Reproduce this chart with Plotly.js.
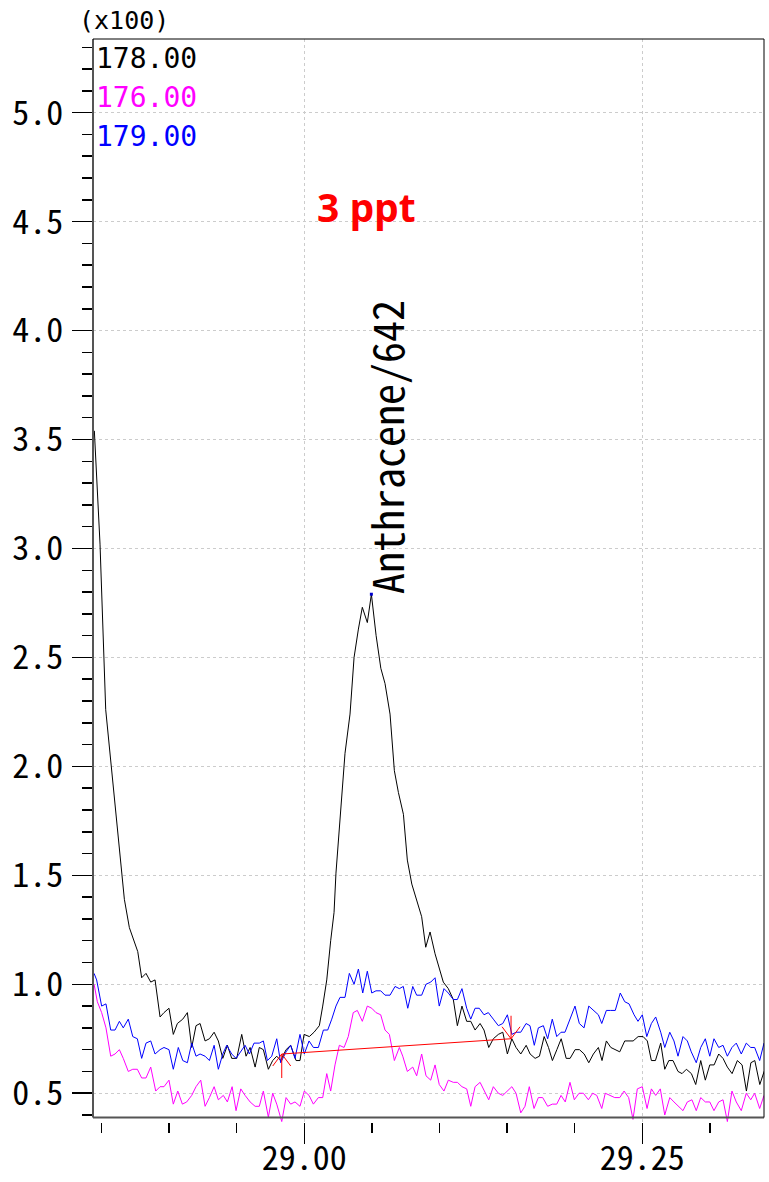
<!DOCTYPE html>
<html>
<head>
<meta charset="utf-8">
<script src="https://cdn.plot.ly/plotly-3.0.1.min.js"></script>
<style>html,body{margin:0;padding:0;background:#fff;}#chart{width:769px;height:1182px;}</style>
</head>
<body>
<div id="chart"></div>
<script>
// ---- data (retention time in min, intensity in x100 counts) ----
const seriesNames = ["178.00", "176.00", "179.00"];
const seriesColors = ["#000000", "#ff00ff", "#0000ff"];

const t178 = [
 28.8447,28.8489,28.8531,28.8669,28.8706,28.8768,28.8797,28.8829,28.8864,28.8896,
 28.8933,28.8962,28.8999,28.9031,28.9061,28.9101,28.9135,28.9167,28.9199,28.9229,
 28.9266,28.9298,28.9333,28.9364,28.9397,28.9431,28.9463,28.9500,28.9537,28.9569,
 28.9599,28.9636,28.9667,28.9697,28.9734,28.9766,28.9796,28.9825,28.9865,28.9899,
 28.9939,28.9968,28.9998,29.0037,29.0072,29.0111,29.0136,29.0166,29.0195,29.0220,
 29.0234,29.0269,29.0301,29.0338,29.0368,29.0400,29.0429,29.0466,29.0496,29.0531,
 29.0566,29.0597,29.0634,29.0666,29.0696,29.0733,29.0762,29.0795,29.0826,29.0868,
 29.0898,29.0930,29.0967,29.0998,29.1028,29.1065,29.1102,29.1132,29.1166,29.1201,
 29.1231,29.1263,29.1300,29.1329,29.1364,29.1398,29.1435,29.1468,29.1502,29.1535,
 29.1566,29.1601,29.1641,29.1670,29.1707,29.1739,29.1774,29.1806,29.1835,29.1868,
 29.1900,29.1937,29.1966,29.2003,29.2035,29.2070,29.2104,29.2138,29.2175,29.2202,
 29.2234,29.2267,29.2301,29.2333,29.2370,29.2400,29.2432,29.2469,29.2506,29.2537,
 29.2567,29.2597,29.2636,29.2666,29.2696,29.2727,29.2764,29.2794,29.2826,29.2863,
 29.2895,29.2932,29.2966,29.2999,29.3031,29.3065,29.3097,29.3129,29.3164,29.3203,
 29.3238,29.3270,29.3303,29.3332,29.3369,29.3401,29.3438
];
const i178 = [
 3.54,3.02,2.26,1.39,1.26,1.15,1.03,1.05,1.01,1.02,
 0.85,0.87,0.89,0.77,0.82,0.84,0.87,0.71,0.81,0.82,
 0.74,0.75,0.78,0.74,0.66,0.72,0.66,0.66,0.77,0.67,
 0.71,0.62,0.71,0.70,0.61,0.65,0.67,0.65,0.70,0.72,
 0.65,0.65,0.77,0.76,0.78,0.81,0.90,1.02,1.20,1.33,
 1.51,1.80,2.06,2.24,2.50,2.63,2.73,2.66,2.79,2.60,
 2.45,2.38,2.24,1.98,1.88,1.78,1.57,1.46,1.40,1.31,
 1.17,1.24,1.14,1.07,1.01,0.98,0.93,0.81,0.90,0.83,
 0.83,0.79,0.82,0.79,0.71,0.75,0.77,0.78,0.68,0.75,
 0.71,0.68,0.72,0.68,0.66,0.67,0.76,0.71,0.65,0.70,
 0.75,0.66,0.66,0.70,0.70,0.68,0.64,0.68,0.71,0.65,
 0.74,0.71,0.70,0.69,0.74,0.74,0.74,0.76,0.76,0.74,
 0.65,0.65,0.73,0.61,0.65,0.65,0.60,0.59,0.61,0.59,
 0.54,0.65,0.56,0.63,0.63,0.68,0.66,0.62,0.59,0.65,
 0.63,0.51,0.64,0.65,0.54,0.60,0.64
];

const t179 = [
 28.8445,28.8464,28.8501,28.8533,28.8568,28.8600,28.8632,28.8661,28.8698,28.8731,
 28.8765,28.8797,28.8829,28.8864,28.8896,28.8933,28.8962,28.8999,28.9031,28.9068,
 28.9101,28.9135,28.9167,28.9199,28.9229,28.9266,28.9298,28.9333,28.9364,28.9397,
 28.9426,28.9463,28.9495,28.9530,28.9562,28.9594,28.9628,28.9667,28.9697,28.9727,
 28.9759,28.9796,28.9825,28.9865,28.9899,28.9931,28.9968,29.0000,29.0035,29.0067,
 29.0104,29.0141,29.0173,29.0203,29.0234,29.0264,29.0301,29.0333,29.0368,29.0400,
 29.0432,29.0466,29.0499,29.0530,29.0565,29.0597,29.0634,29.0671,29.0703,29.0732,
 29.0765,29.0802,29.0831,29.0868,29.0900,29.0935,29.0967,29.0998,29.1033,29.1065,
 29.1102,29.1132,29.1166,29.1201,29.1231,29.1263,29.1294,29.1329,29.1361,29.1398,
 29.1435,29.1468,29.1502,29.1535,29.1566,29.1601,29.1640,29.1669,29.1701,29.1731,
 29.1768,29.1800,29.1834,29.1867,29.1899,29.1928,29.1965,29.2002,29.2034,29.2069,
 29.2104,29.2138,29.2175,29.2200,29.2234,29.2266,29.2300,29.2337,29.2370,29.2402,
 29.2439,29.2468,29.2500,29.2533,29.2567,29.2599,29.2636,29.2666,29.2703,29.2734,
 29.2764,29.2801,29.2833,29.2862,29.2899,29.2932,29.2966,29.2999,29.3030,29.3065,
 29.3097,29.3129,29.3163,29.3195,29.3232,29.3269,29.3302,29.3331,29.3368,29.3400,
 29.3437
];
const i179 = [
 1.05,1.02,0.90,0.91,0.79,0.79,0.83,0.80,0.84,0.76,
 0.75,0.66,0.73,0.74,0.68,0.70,0.71,0.70,0.61,0.71,
 0.65,0.64,0.73,0.67,0.68,0.67,0.65,0.72,0.61,0.68,
 0.72,0.68,0.66,0.69,0.72,0.68,0.73,0.73,0.74,0.65,
 0.67,0.75,0.64,0.69,0.72,0.66,0.77,0.68,0.74,0.71,
 0.71,0.79,0.79,0.84,0.90,0.94,0.94,1.05,1.00,1.07,
 0.96,1.06,0.96,0.97,0.97,0.95,0.95,0.99,0.98,0.99,
 0.89,0.99,0.95,0.95,1.00,1.01,1.03,0.90,0.98,0.96,
 0.93,0.93,0.98,0.89,0.84,0.89,0.89,0.86,0.87,0.84,
 0.81,0.82,0.86,0.77,0.78,0.78,0.82,0.81,0.72,0.80,
 0.81,0.75,0.84,0.76,0.78,0.78,0.84,0.90,0.82,0.80,
 0.90,0.88,0.86,0.82,0.88,0.88,0.88,0.96,0.92,0.91,
 0.86,0.83,0.86,0.76,0.82,0.85,0.78,0.71,0.78,0.74,
 0.67,0.76,0.74,0.69,0.64,0.71,0.75,0.67,0.75,0.71,
 0.72,0.67,0.71,0.73,0.68,0.73,0.71,0.71,0.65,0.73,
 0.70
];

const t176 = [
 28.8445,28.8469,28.8501,28.8533,28.8568,28.8600,28.8632,28.8661,28.8698,28.8731,
 28.8765,28.8797,28.8829,28.8864,28.8901,28.8933,28.8962,28.8999,28.9031,28.9064,
 28.9098,28.9130,28.9167,28.9199,28.9234,28.9266,28.9298,28.9333,28.9364,28.9401,
 28.9431,28.9466,28.9495,28.9530,28.9562,28.9599,28.9636,28.9667,28.9697,28.9734,
 28.9766,28.9796,28.9833,28.9865,28.9899,28.9931,28.9968,29.0000,29.0035,29.0067,
 29.0104,29.0136,29.0166,29.0195,29.0227,29.0259,29.0294,29.0325,29.0362,29.0392,
 29.0429,29.0466,29.0499,29.0530,29.0565,29.0597,29.0629,29.0666,29.0703,29.0728,
 29.0762,29.0802,29.0831,29.0868,29.0900,29.0935,29.0967,29.0998,29.1033,29.1065,
 29.1102,29.1132,29.1166,29.1201,29.1231,29.1263,29.1300,29.1329,29.1364,29.1398,
 29.1435,29.1468,29.1502,29.1535,29.1566,29.1601,29.1632,29.1664,29.1699,29.1731,
 29.1763,29.1800,29.1834,29.1867,29.1899,29.1930,29.1965,29.1997,29.2032,29.2064,
 29.2101,29.2133,29.2163,29.2200,29.2226,29.2259,29.2296,29.2333,29.2365,29.2399,
 29.2431,29.2463,29.2500,29.2535,29.2567,29.2599,29.2633,29.2666,29.2703,29.2734,
 29.2769,29.2801,29.2833,29.2867,29.2899,29.2932,29.2966,29.2999,29.3030,29.3065,
 29.3097,29.3129,29.3163,29.3195,29.3232,29.3269,29.3302,29.3331,29.3368,29.3400,
 29.3437
];
const i176 = [
 1.00,0.92,0.87,0.80,0.67,0.68,0.70,0.66,0.60,0.61,
 0.61,0.57,0.57,0.62,0.51,0.53,0.53,0.56,0.45,0.51,
 0.45,0.46,0.49,0.53,0.56,0.44,0.48,0.53,0.47,0.49,
 0.46,0.53,0.42,0.52,0.49,0.46,0.44,0.44,0.51,0.39,
 0.50,0.45,0.37,0.48,0.45,0.46,0.44,0.51,0.49,0.45,
 0.48,0.48,0.59,0.51,0.63,0.72,0.71,0.76,0.87,0.88,
 0.83,0.90,0.89,0.87,0.86,0.79,0.77,0.65,0.71,0.67,
 0.60,0.62,0.58,0.68,0.58,0.56,0.63,0.54,0.51,0.56,
 0.55,0.55,0.53,0.52,0.44,0.53,0.55,0.51,0.47,0.53,
 0.50,0.49,0.51,0.53,0.50,0.41,0.44,0.53,0.43,0.48,
 0.48,0.44,0.45,0.45,0.49,0.46,0.55,0.47,0.50,0.50,
 0.47,0.50,0.49,0.43,0.50,0.49,0.48,0.48,0.51,0.48,
 0.38,0.52,0.53,0.43,0.52,0.49,0.52,0.40,0.48,0.46,
 0.44,0.42,0.46,0.47,0.42,0.48,0.46,0.46,0.42,0.46,
 0.47,0.37,0.51,0.46,0.42,0.50,0.47,0.50,0.43,0.49,
 0.51
];

// integration baseline (start / end of peak)
const baseT = [28.9833, 29.1529];
const baseI = [0.68, 0.75];
// peak label
const peakT = [29.0496];
const peakI = [2.79];
const peakLabel = ["Anthracene/642"];
const concText = "3 ppt";
const scaleText = "(x100)";

// ---- drawing ----
const MONO = "'Noto Sans Mono CJK JP', 'DejaVu Sans Mono', monospace";
const MONO2 = "'DejaVu Sans Mono', monospace";
const traces = [
  {x: t178, y: i178, mode: 'lines', line: {color: seriesColors[0], width: 1}, name: seriesNames[0]},
  {x: t176, y: i176, mode: 'lines', line: {color: seriesColors[1], width: 1}, name: seriesNames[1]},
  {x: t179, y: i179, mode: 'lines', line: {color: seriesColors[2], width: 1}, name: seriesNames[2]},
  {x: baseT, y: baseI, mode: 'lines', line: {color: '#ff0000', width: 1}, name: 'baseline'},
  {x: peakT, y: peakI, mode: 'markers', marker: {color: '#0000cc', size: 3, symbol: 'square'}, name: 'apex'}
];

const yb = 4.5 / 1083; // bottom frame line slightly above the tick origin
const shapes = [
  {type: 'line', xref: 'paper', yref: 'paper', x0: 0, x1: 0, y0: yb, y1: 1, line: {color: '#555555', width: 2}},
  {type: 'line', xref: 'paper', yref: 'paper', x0: 0, x1: 1, y0: yb, y1: yb, line: {color: '#555555', width: 2}},
  {type: 'line', xref: 'paper', yref: 'paper', x0: 0, x1: 1, y0: 1, y1: 1, line: {color: '#000000', width: 1}},
  {type: 'line', xref: 'paper', yref: 'paper', x0: 1, x1: 1, y0: yb, y1: 1, line: {color: '#000000', width: 1}},
  // peak start / end markers
  {type: 'path', xref: 'x', yref: 'y', xsizemode: 'pixel', ysizemode: 'pixel',
   xanchor: baseT[0], yanchor: baseI[0], path: 'M-9,-12L0,0L9,-12M0,0L0,-24', line: {color: '#ff0000', width: 1}},
  {type: 'path', xref: 'x', yref: 'y', xsizemode: 'pixel', ysizemode: 'pixel',
   xanchor: baseT[1], yanchor: baseI[1], path: 'M-9,12L0,0L9,12M0,0L0,23', line: {color: '#ff0000', width: 1}}
];

const legendY = [0.9818, 0.9457, 0.9098];
const annotations = seriesNames.map((n, i) => ({
  xref: 'paper', yref: 'paper', x: 0.002, y: legendY[i], xanchor: 'left', yanchor: 'middle',
  text: n, showarrow: false, font: {family: MONO2, size: 28, color: seriesColors[i]}
}));
annotations.push({xref: 'paper', yref: 'paper', x: -0.024, y: 1.0175, xanchor: 'left', yanchor: 'middle',
  text: scaleText, showarrow: false, font: {family: MONO2, size: 25, color: '#000'}});
annotations.push({xref: 'paper', yref: 'paper', x: 0.408, y: 0.845, xanchor: 'center', yanchor: 'middle',
  text: '<b>' + concText + '</b>', showarrow: false, font: {family: "'Open Sans', sans-serif", size: 39, color: '#ff0000'}});
annotations.push({xref: 'x', yref: 'y', x: peakT[0], y: peakI[0], xanchor: 'left', yanchor: 'bottom',
  text: peakLabel[0], textangle: -90, showarrow: false, xshift: -19, yshift: -2,
  font: {family: MONO, size: 42, color: '#000'}});

const layout = {
  width: 769, height: 1182,
  margin: {l: 93, r: 5, t: 39, b: 60, pad: 0},
  paper_bgcolor: '#ffffff', plot_bgcolor: '#ffffff',
  showlegend: false,
  xaxis: {
    range: [28.8437, 29.3400], tickmode: 'linear', tick0: 29.0, dtick: 0.25, tickformat: '.2f',
    ticks: 'outside', ticklen: 21, tickwidth: 1.5, tickcolor: '#000',
    showgrid: true, gridcolor: '#cccccc', griddash: 'dot', gridwidth: 1,
    zeroline: false, showline: false, ticklabelstandoff: -15,
    minor: {dtick: 0.05, tick0: 29.0, ticks: 'outside', ticklen: 10, tickwidth: 1.5, tickcolor: '#000', showgrid: false},
    tickfont: {family: MONO, size: 34, color: '#000'}
  },
  yaxis: {
    range: [0.368, 5.338], tickmode: 'linear', tick0: 0.5, dtick: 0.5, tickformat: '.1f',
    ticks: 'outside', ticklen: 20, tickwidth: 1.5, tickcolor: '#000',
    showgrid: true, gridcolor: '#cccccc', griddash: 'dot', gridwidth: 1,
    zeroline: false, showline: false, ticklabelstandoff: 2,
    minor: {dtick: 0.1, tick0: 0.5, ticks: 'outside', ticklen: 10, tickwidth: 1.5, tickcolor: '#000', showgrid: false},
    tickfont: {family: MONO, size: 34, color: '#000'}
  },
  shapes: shapes,
  annotations: annotations
};

Plotly.newPlot('chart', traces, layout, {staticPlot: true, displayModeBar: false});
</script>
</body>
</html>
